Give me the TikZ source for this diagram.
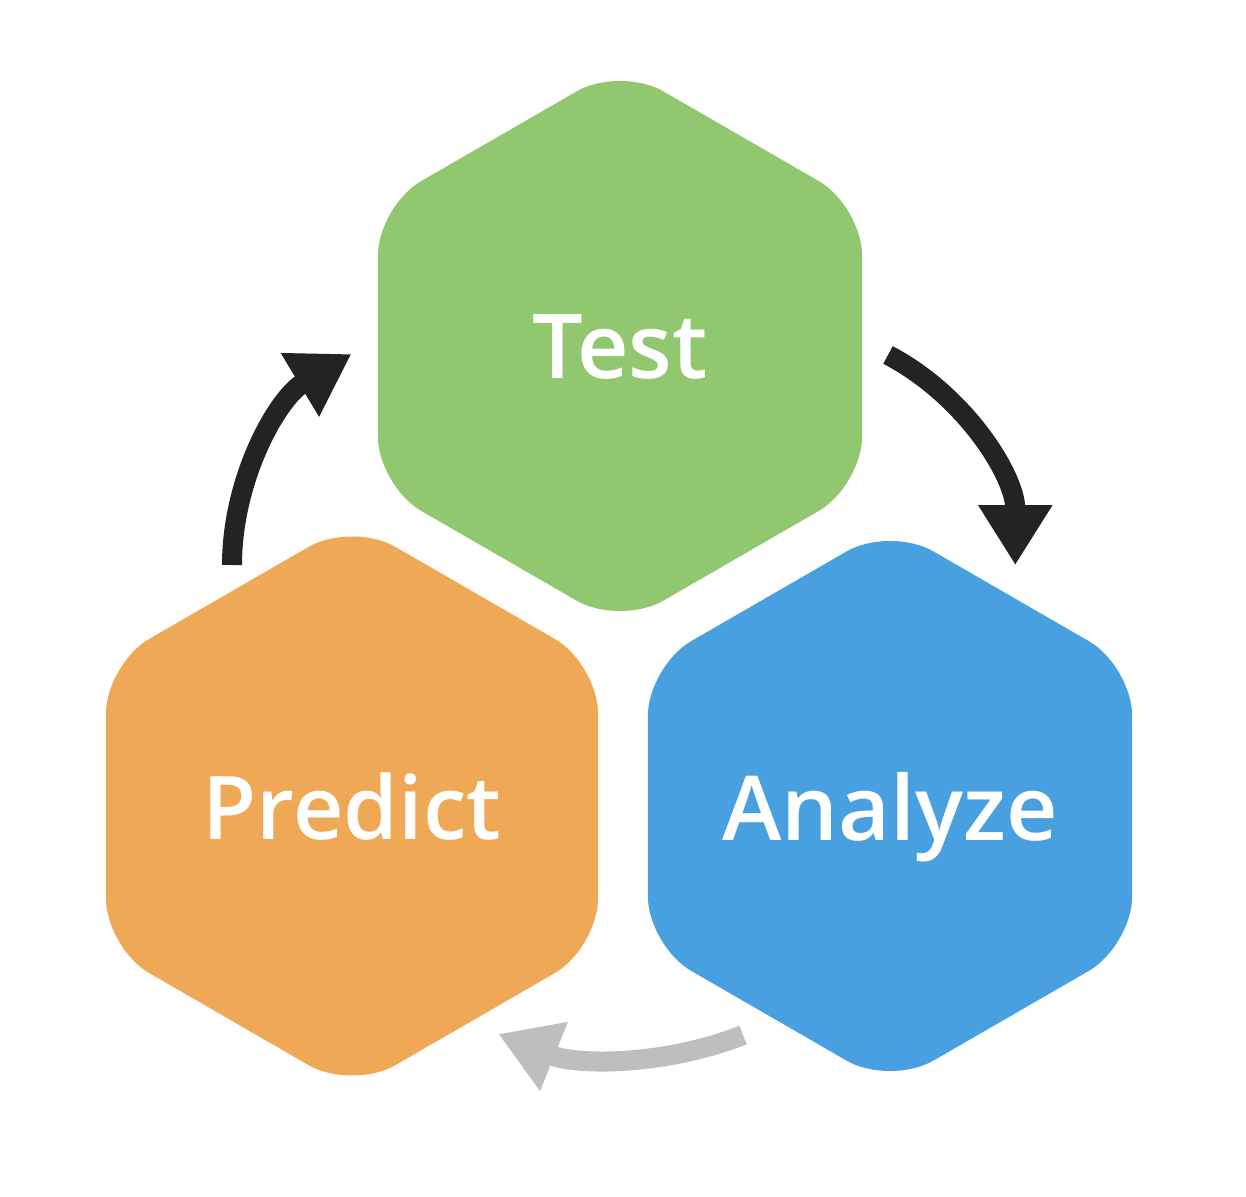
\documentclass[tikz,border=0pt]{standalone}
\usepackage{fontspec}
\setmainfont{Open Sans}
\newfontfamily\labfont{Open Sans Semibold}
\usetikzlibrary{arrows.meta, shapes.geometric}
\definecolor{leaf}{HTML}{91C76E}
\definecolor{sun}{HTML}{EEA856}
\definecolor{sky}{HTML}{49A0E0}
\definecolor{ink}{HTML}{232323}
\definecolor{mist}{HTML}{BEBEBE}

\begin{document}
\begin{tikzpicture}[x=0.01cm, y=0.01cm,
  hexa/.style={regular polygon, regular polygon sides=6, regular polygon rotate=30,
               minimum size=5.59cm, rounded corners=0.5cm, inner sep=0pt},
  lab/.style={text=white, font=\labfont\fontsize{25.5}{30}\selectfont,
              text depth=0pt, inner sep=0pt},
  cyc/.style={line width=0.2cm, draw=ink,
              -{Triangle[length=0.6cm, width=0.7cm]}},
  back/.style={cyc, draw=mist}]
\fill[white] (0,0) rectangle (1246,1196);
\node[hexa, fill=leaf] (test) at (620,850) {};
\node[hexa, fill=sun, minimum size=5.68cm] (pred) at (352,390) {};
\node[hexa, fill=sky] (anal) at (890,390) {};
\node[lab] (test-t) at (test) {Test};
\node[lab, font=\labfont\fontsize{25}{30}\selectfont] (pred-t) at (pred) {Predict};
\node[lab] (anal-t) at (anal) {Analyze};
% tails of the three turning arrows
\coordinate (p-out) at (232,631);
\coordinate (t-out) at (888,841);
\coordinate (a-out) at (743,161);
\draw[cyc] (p-out) arc[start angle=180, end angle=121, radius=2.46cm];
\draw[cyc] (t-out) arc[start angle=62.4, end angle=0, radius=2.37cm];
\draw[back] (a-out) arc[start angle=-68.5, end angle=-112, radius=3.3cm];
\end{tikzpicture}
\end{document}
